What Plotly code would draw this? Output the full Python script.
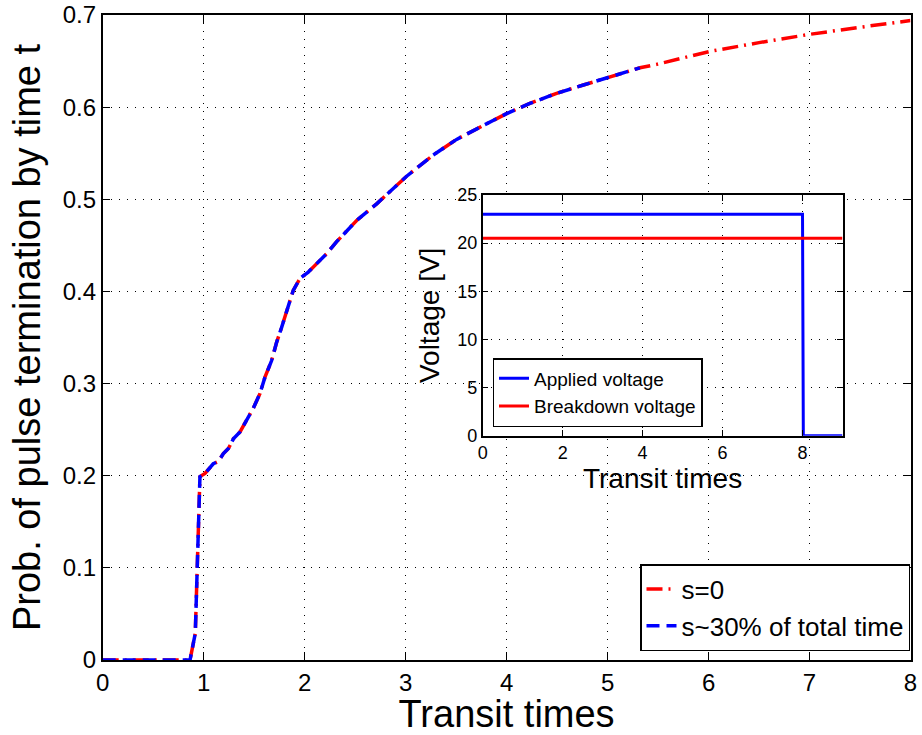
import plotly.graph_objects as go

# main chart data
t_s0 = [0, 0.83, 0.865, 0.917, 0.937, 0.963, 1.013, 1.095, 1.145, 1.195, 1.245, 1.294, 1.36, 1.426,
        1.49, 1.557, 1.607, 1.673, 1.723, 1.772, 1.822, 1.855, 1.887, 1.953, 2.036, 2.119, 2.218,
        2.317, 2.515, 2.713, 3.01, 3.273, 3.505, 3.768, 4.0, 4.23, 4.495, 4.76, 5.02, 5.25, 5.32,
        5.485, 5.75, 6.013, 6.5, 7.0, 7.5, 7.94, 8.0]
p_s0 = [0, 0, 0, 0.029, 0.119, 0.199, 0.2025, 0.213, 0.2155, 0.224, 0.2295, 0.240, 0.2476, 0.260,
        0.273, 0.289, 0.307, 0.325, 0.345, 0.361, 0.380, 0.390, 0.401, 0.414, 0.421, 0.430, 0.441,
        0.454, 0.477, 0.495, 0.525, 0.548, 0.565, 0.580, 0.593, 0.604, 0.615, 0.624, 0.633, 0.640,
        0.6427, 0.6464, 0.653, 0.6605, 0.670, 0.679, 0.6867, 0.6927, 0.694]
t_s30 = [0, 0.83, 0.865, 0.917, 0.937, 0.963, 1.013, 1.095, 1.145, 1.195, 1.245, 1.294, 1.36, 1.426,
         1.49, 1.557, 1.607, 1.673, 1.723, 1.772, 1.822, 1.855, 1.887, 1.953, 2.036, 2.119, 2.218,
         2.317, 2.515, 2.713, 3.01, 3.273, 3.505, 3.768, 4.0, 4.23, 4.495, 4.76, 5.02, 5.25, 5.32]
p_s30 = [0, 0, 0, 0.029, 0.119, 0.199, 0.2025, 0.213, 0.2155, 0.224, 0.2295, 0.240, 0.2476, 0.260,
         0.273, 0.289, 0.307, 0.325, 0.345, 0.361, 0.380, 0.390, 0.401, 0.414, 0.421, 0.430, 0.441,
         0.454, 0.477, 0.495, 0.525, 0.548, 0.565, 0.580, 0.593, 0.604, 0.615, 0.624, 0.633, 0.640,
         0.6427]

# inset data
t_applied = [0, 8, 8.02, 9]
v_applied = [23, 23, 0, 0]
t_break = [0, 9]
v_break = [20.5, 20.5]

main_xticks = [0, 1, 2, 3, 4, 5, 6, 7, 8]
main_yticks = [0, 0.1, 0.2, 0.3, 0.4, 0.5, 0.6, 0.7]
main_yticklabels = ["0", "0.1", "0.2", "0.3", "0.4", "0.5", "0.6", "0.7"]
inset_xticks = [0, 2, 4, 6, 8]
inset_yticks = [0, 5, 10, 15, 20, 25]

FONT = "Liberation Sans, Arial, Helvetica, sans-serif"

fig = go.Figure()
fig.add_trace(go.Scatter(x=t_s0, y=p_s0, mode="lines", name="s=0",
                         line=dict(color="#ff0000", width=3.5, dash="16px,6px,2px,6px"),
                         xaxis="x", yaxis="y", legend="legend"))
fig.add_trace(go.Scatter(x=t_s30, y=p_s30, mode="lines", name="s~30% of total time",
                         line=dict(color="#0000ff", width=3.5, dash="13px,7px"),
                         xaxis="x", yaxis="y", legend="legend"))
fig.add_trace(go.Scatter(x=t_applied, y=v_applied, mode="lines", name="Applied voltage",
                         line=dict(color="#0000ff", width=3),
                         xaxis="x2", yaxis="y2", legend="legend2"))
fig.add_trace(go.Scatter(x=t_break, y=v_break, mode="lines", name="Breakdown voltage",
                         line=dict(color="#ff0000", width=3),
                         xaxis="x2", yaxis="y2", legend="legend2"))

W, H = 922, 735
grid = dict(showgrid=True, gridcolor="#000000", gridwidth=1, griddash="1px,7px",
            zeroline=False, showline=True, linecolor="#000000", linewidth=1.5,
            mirror="ticks", ticks="inside", tickcolor="#000000", automargin=False)

fig.update_layout(
    width=W, height=H,
    margin=dict(l=0, r=0, t=0, b=0),
    paper_bgcolor="white", plot_bgcolor="white",
    font=dict(family=FONT, color="#000000"),
    xaxis=dict(domain=[102.7 / W, 910.5 / W], range=[0, 8], tickvals=main_xticks,
               ticklen=8, tickfont=dict(size=24),
               title=dict(text="Transit times", font=dict(size=38), standoff=4),
               anchor="y", **grid),
    yaxis=dict(domain=[(H - 660) / H, (H - 15) / H], range=[0, 0.7], tickvals=main_yticks,
               ticktext=main_yticklabels, ticklen=8, tickfont=dict(size=24),
               title=dict(text="Prob. of pulse termination by time t", font=dict(size=38), standoff=10),
               anchor="x", **grid),
    xaxis2=dict(domain=[482.7 / W, 842.5 / W], range=[0, 9], tickvals=inset_xticks,
                ticklen=6, tickfont=dict(size=18),
                title=dict(text="Transit times", font=dict(size=28), standoff=4),
                anchor="y2", **grid),
    yaxis2=dict(domain=[(H - 435.7) / H, (H - 195) / H], range=[0, 25], tickvals=inset_yticks,
                ticklen=6, tickfont=dict(size=18),
                title=dict(text="Voltage [V]", font=dict(size=28), standoff=10),
                anchor="x2", **grid),
    legend=dict(x=910 / W, y=(H - 651) / H, xanchor="right", yanchor="bottom",
                bgcolor="white", bordercolor="#000000", borderwidth=1.5,
                font=dict(size=26), tracegroupgap=0),
    legend2=dict(x=492.5 / W, y=(H - 427) / H, xanchor="left", yanchor="bottom",
                 bgcolor="white", bordercolor="#000000", borderwidth=1.5,
                 font=dict(size=19), tracegroupgap=0),
    showlegend=True,
)

fig.write_html("out.html")
